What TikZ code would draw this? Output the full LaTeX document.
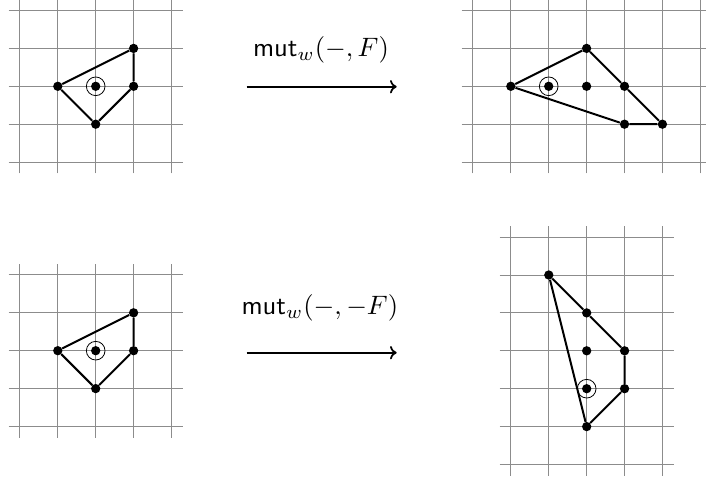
\documentclass[tikz,border=0pt]{standalone}
\usetikzlibrary{arrows.meta}
\begin{document}
\begin{tikzpicture}[x=1cm,y=1cm,
  gridline/.style={black!45, line width=0.7pt},
  pt/.style={circle, fill=black, inner sep=0pt, minimum size=7pt},
  edge/.style={line width=1.5pt},
  ring/.style={circle, draw, line width=0.6pt, inner sep=0pt, minimum size=14pt},
  maparrow/.style={line width=1.3pt, -{To[length=5pt,width=10pt]}},
  lab/.style={scale=2, anchor=base, inner sep=0pt}]
\useasboundingbox (0,0) rectangle (18.628,-12.639);

% top left
\begin{scope}[shift={(2.525,-2.277)}]
  \foreach \x in {-2,...,2} \draw[gridline] (\x,-2.3) -- (\x,2.3);
  \foreach \y in {-2,...,2} \draw[gridline] (-2.3,\y) -- (2.3,\y);
  \node[pt] (tl-l) at (-1,0) {};
  \node[pt] (tl-c) at (0,0) {};
  \node[ring] (tl-ring) at (0,0) {};
  \node[pt] (tl-t) at (1,1) {};
  \node[pt] (tl-r) at (1,0) {};
  \node[pt] (tl-b) at (0,-1) {};
  \draw[edge] (tl-l) -- (tl-t) -- (tl-r) -- (tl-b) -- (tl-l);
\end{scope}

% top right
\begin{scope}[shift={(14.478,-2.277)}]
  \foreach \x in {-2,...,4} \draw[gridline] (\x,-2.3) -- (\x,2.3);
  \foreach \y in {-2,...,2} \draw[gridline] (-2.3,\y) -- (4.3,\y);
  \node[pt] (tr-l) at (-1,0) {};
  \node[pt] (tr-c) at (0,0) {};
  \node[ring] (tr-ring) at (0,0) {};
  \node[pt] (tr-m) at (1,0) {};
  \node[pt] (tr-t) at (1,1) {};
  \node[pt] (tr-r) at (2,0) {};
  \node[pt] (tr-b) at (2,-1) {};
  \node[pt] (tr-br) at (3,-1) {};
  \draw[edge] (tr-l) -- (tr-t) -- (tr-r) -- (tr-br) -- (tr-b) -- (tr-l);
\end{scope}

% bottom left
\begin{scope}[shift={(2.525,-9.253)}]
  \foreach \x in {-2,...,2} \draw[gridline] (\x,-2.3) -- (\x,2.3);
  \foreach \y in {-2,...,2} \draw[gridline] (-2.3,\y) -- (2.3,\y);
  \node[pt] (bl-l) at (-1,0) {};
  \node[pt] (bl-c) at (0,0) {};
  \node[ring] (bl-ring) at (0,0) {};
  \node[pt] (bl-t) at (1,1) {};
  \node[pt] (bl-r) at (1,0) {};
  \node[pt] (bl-b) at (0,-1) {};
  \draw[edge] (bl-l) -- (bl-t) -- (bl-r) -- (bl-b) -- (bl-l);
\end{scope}

% bottom right
\begin{scope}[shift={(15.480,-10.256)}]
  \foreach \x in {-2,...,2} \draw[gridline] (\x,-2.3) -- (\x,4.3);
  \foreach \y in {-2,...,4} \draw[gridline] (-2.3,\y) -- (2.3,\y);
  \node[pt] (br-tl) at (-1,3) {};
  \node[pt] (br-u) at (0,2) {};
  \node[pt] (br-m) at (0,1) {};
  \node[pt] (br-rt) at (1,1) {};
  \node[pt] (br-rb) at (1,0) {};
  \node[pt] (br-c) at (0,0) {};
  \node[ring] (br-ring) at (0,0) {};
  \node[pt] (br-b) at (0,-1) {};
  \draw[edge] (br-tl) -- (br-u) -- (br-rt) -- (br-rb) -- (br-b) -- (br-tl);
\end{scope}

% arrows
\coordinate (s1) at (6.509,-2.288);
\coordinate (e1) at (10.467,-2.288);
\draw[maparrow] (s1) -- (e1);
\node[lab] (m1) at (8.47,-1.496) {$\mathsf{mut}_w(-,F)$};

\coordinate (s2) at (6.509,-9.306);
\coordinate (e2) at (10.467,-9.306);
\draw[maparrow] (s2) -- (e2);
\node[lab] (m2) at (8.44,-8.311) {$\mathsf{mut}_w(-,-F)$};
\end{tikzpicture}
\end{document}
